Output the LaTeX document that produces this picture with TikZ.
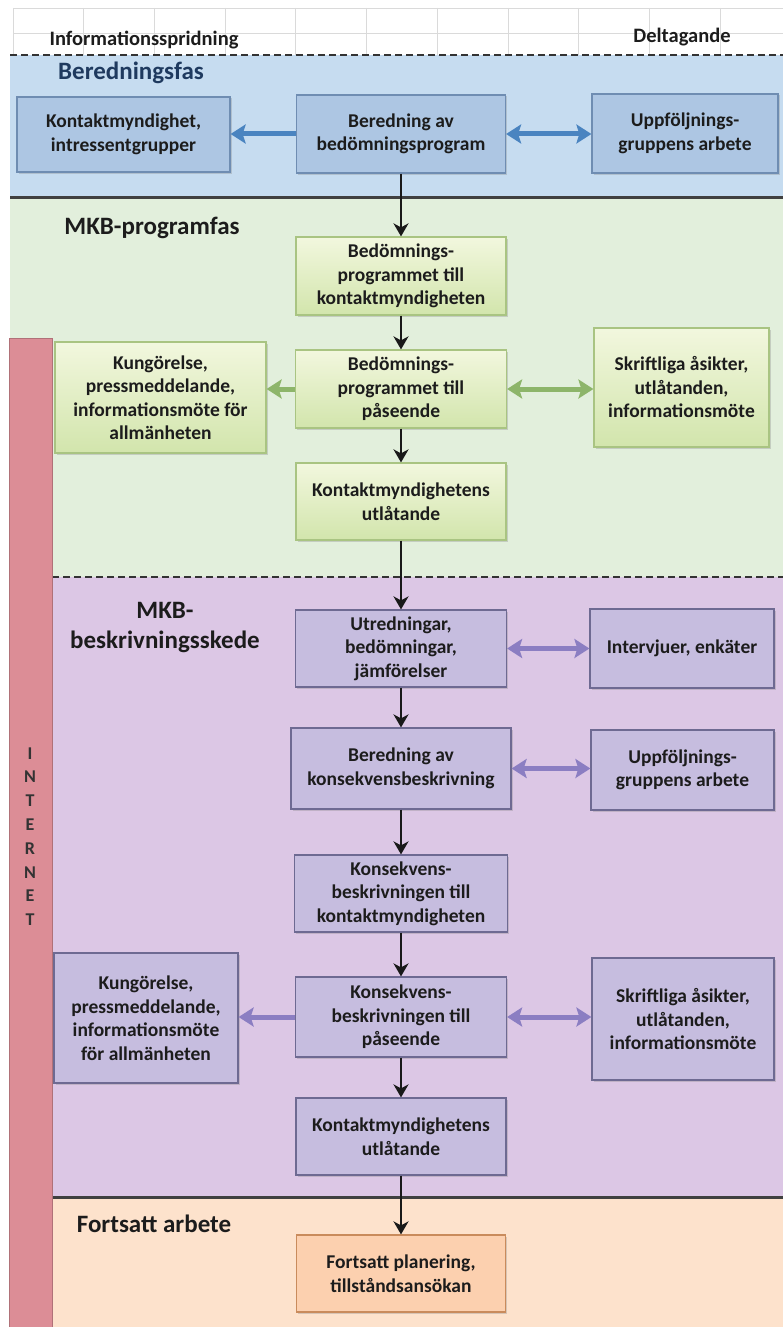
\documentclass[tikz,border=0pt]{standalone}
\usepackage{fontspec}
\setmainfont{Carlito}
\usetikzlibrary{arrows.meta,shadows}

\definecolor{bandblue}{HTML}{C6DCF0}
\definecolor{boxblue}{HTML}{ADC6E3}
\definecolor{lineblue}{HTML}{6F8DB2}
\definecolor{arrblue}{HTML}{4A84C0}
\definecolor{bandgreen}{HTML}{E2EFDC}
\definecolor{boxgreentop}{HTML}{F2F7DE}
\definecolor{boxgreenbot}{HTML}{D2E5AC}
\definecolor{linegreen}{HTML}{A9C482}
\definecolor{arrgreen}{HTML}{8DB56A}
\definecolor{bandpurple}{HTML}{DCC7E5}
\definecolor{boxpurple}{HTML}{C6BDDF}
\definecolor{linepurple}{HTML}{6E6A92}
\definecolor{arrpurple}{HTML}{8B7EC2}
\definecolor{bandorange}{HTML}{FDE2CC}
\definecolor{boxorange}{HTML}{FCD0AF}
\definecolor{lineorange}{HTML}{C98B5C}
\definecolor{internetred}{HTML}{DC8D96}
\definecolor{gridgray}{HTML}{DADADA}
\definecolor{headnavy}{HTML}{1F3A5F}
\definecolor{textdark}{HTML}{1C1C1C}

\tikzset{
  box/.style={draw, line width=1.2pt, align=center, inner sep=2pt, text=textdark,
    font=\fontsize{19.5}{23.5}\selectfont\bfseries,
    drop shadow={opacity=0.3, shadow xshift=1.5pt, shadow yshift=-1.5pt}},
  bluebox/.style={box, fill=boxblue, draw=lineblue},
  greenbox/.style={box, top color=boxgreentop, bottom color=boxgreenbot, draw=linegreen},
  purplebox/.style={box, fill=boxpurple, draw=linepurple},
  orangebox/.style={box, fill=boxorange, draw=lineorange},
  headsmall/.style={font=\fontsize{20.5}{24}\selectfont\bfseries, text=textdark},
  headbig/.style={font=\fontsize{25}{30}\selectfont\bfseries, text=textdark, align=center},
  divdash/.style={line width=2.4pt, dash pattern=on 7pt off 4pt, draw=black!80},
  divline/.style={line width=3pt, draw=black!75},
  flow/.style={line width=2.6pt, draw=black!90, -{Stealth[length=13pt,width=15pt,inset=4pt]}},
  sidearrow/.style={line width=5pt, -{Stealth[length=15pt,width=19pt,inset=3pt]}},
  sidearrows/.style={line width=5pt, {Stealth[length=15pt,width=19pt,inset=3pt]}-{Stealth[length=15pt,width=19pt,inset=3pt]}}
}

\begin{document}
\begin{tikzpicture}[x=1pt,y=-1pt]
\useasboundingbox (0,0) rectangle (783,1327);
\fill[white] (0,0) rectangle (783,1327);
% grid at the top
\foreach \gx in {0,...,10}
  \draw[gridgray, line width=0.8pt] ({13+70.7*\gx},8) -- ({13+70.7*\gx},55);
\draw[gridgray, line width=0.8pt] (13,8) -- (783,8);
\draw[gridgray, line width=0.8pt] (13,33) -- (783,33);
% phase bands
\fill[bandblue] (10,55) rectangle (783,197);
\fill[bandgreen] (10,197) rectangle (783,577);
\fill[bandpurple] (10,577) rectangle (783,1197);
\fill[bandorange] (10,1197) rectangle (783,1327);
\draw[divdash] (10,55) -- (783,55);
\draw[divline] (10,197) -- (783,197);
\draw[divdash] (52,577) -- (783,577);
\draw[divline] (52,1197) -- (783,1197);
% internet bar
\filldraw[fill=internetred, draw=internetred!80!black, line width=0.8pt] (9,338) rectangle (52,1327);
\node (internet) at (30,836.5) [font=\fontsize{18}{23.8}\selectfont\bfseries, text=black!80, align=center]
  {I\\N\\T\\E\\R\\N\\E\\T};

% headings
\node (infohead) at (144,40) [headsmall] {Informationsspridning};
\node (deltahead) at (682,37) [headsmall] {Deltagande};
\node (beredfas) at (131,73) [headbig, text=headnavy] {Beredningsfas};
\node (progfas) at (152,228) [headbig] {MKB-programfas};
\node (beskrfas) at (165,628) [headbig] {MKB-\\beskrivningsskede};
\node (fortfas) at (154,1224) [headbig] {Fortsatt arbete};

% Beredningsfas
\node (bered) at (401,134) [bluebox, minimum width=209pt, minimum height=78pt] {Beredning av\\bedömningsprogram};
\node (kontakt) at (123.5,134.5) [bluebox, minimum width=213pt, minimum height=75pt] {Kontaktmyndighet,\\intressentgrupper};
\node (uppf) at (685,133.5) [bluebox, minimum width=186pt, minimum height=79pt] {Uppföljnings-\\gruppens arbete};

% MKB-programfas
\node (progkontakt) at (401,276) [greenbox, minimum width=210pt, minimum height=78pt] {Bedömnings-\\programmet till\\kontaktmyndigheten};
\node (progpase) at (401,389) [greenbox, minimum width=211pt, minimum height=78pt] {Bedömnings-\\programmet till\\påseende};
\node (progkung) at (160.5,397.5) [greenbox, minimum width=211pt, minimum height=111pt] {Kungörelse,\\pressmeddelande,\\informationsmöte för\\allmänheten};
\node (progasikt) at (681.5,387.5) [greenbox, minimum width=175pt, minimum height=119pt] {Skriftliga åsikter,\\utlåtanden,\\informationsmöte};
\node (progutl) at (401,501.5) [greenbox, minimum width=210pt, minimum height=77pt] {Kontaktmyndighetens\\utlåtande};

% MKB-beskrivningsskede
\node (utred) at (401,648.5) [purplebox, minimum width=211pt, minimum height=77pt] {Utredningar,\\bedömningar,\\jämförelser};
\node (interv) at (682,648.5) [purplebox, minimum width=184pt, minimum height=79pt] {Intervjuer, enkäter};
\node (beredkons) at (401,768.5) [purplebox, minimum width=220pt, minimum height=81pt] {Beredning av\\konsekvensbeskrivning};
\node (uppfkons) at (682.5,770) [purplebox, minimum width=183pt, minimum height=80pt] {Uppföljnings-\\gruppens arbete};
\node (konskontakt) at (401,893.5) [purplebox, minimum width=213pt, minimum height=77pt] {Konsekvens-\\beskrivningen till\\kontaktmyndigheten};
\node (konspase) at (401,1017) [purplebox, minimum width=211pt, minimum height=80pt] {Konsekvens-\\beskrivningen till\\påseende};
\node (konskung) at (146,1018) [purplebox, minimum width=184pt, minimum height=130pt] {Kungörelse,\\pressmeddelande,\\informationsmöte\\för allmänheten};
\node (konsasikt) at (683,1019) [purplebox, minimum width=182pt, minimum height=122pt] {Skriftliga åsikter,\\utlåtanden,\\informationsmöte};
\node (konsutl) at (401,1136.5) [purplebox, minimum width=210pt, minimum height=77pt] {Kontaktmyndighetens\\utlåtande};

% Fortsatt arbete
\node (fortplan) at (401,1273.5) [orangebox, minimum width=209pt, minimum height=77pt] {Fortsatt planering,\\tillståndsansökan};

% main flow
\draw[flow] (bered) -- (progkontakt);
\draw[flow] (progkontakt) -- (progpase);
\draw[flow] (progpase) -- (progutl);
\draw[flow] (progutl) -- (utred);
\draw[flow] (utred) -- (beredkons);
\draw[flow] (beredkons) -- (konskontakt);
\draw[flow] (konskontakt) -- (konspase);
\draw[flow] (konspase) -- (konsutl);
\draw[flow] (konsutl) -- (fortplan);

% side arrows
\draw[sidearrow, arrblue] (bered.west) -- (bered.west -| kontakt.east);
\draw[sidearrows, arrblue] (bered.east) -- (bered.east -| uppf.west);
\draw[sidearrow, arrgreen] (progpase.west) -- (progpase.west -| progkung.east);
\draw[sidearrows, arrgreen] (progpase.east) -- (progpase.east -| progasikt.west);
\draw[sidearrows, arrpurple] (utred.east) -- (utred.east -| interv.west);
\draw[sidearrows, arrpurple] (beredkons.east) -- (beredkons.east -| uppfkons.west);
\draw[sidearrow, arrpurple] (konspase.west) -- (konspase.west -| konskung.east);
\draw[sidearrows, arrpurple] (konspase.east) -- (konspase.east -| konsasikt.west);
\end{tikzpicture}
\end{document}
